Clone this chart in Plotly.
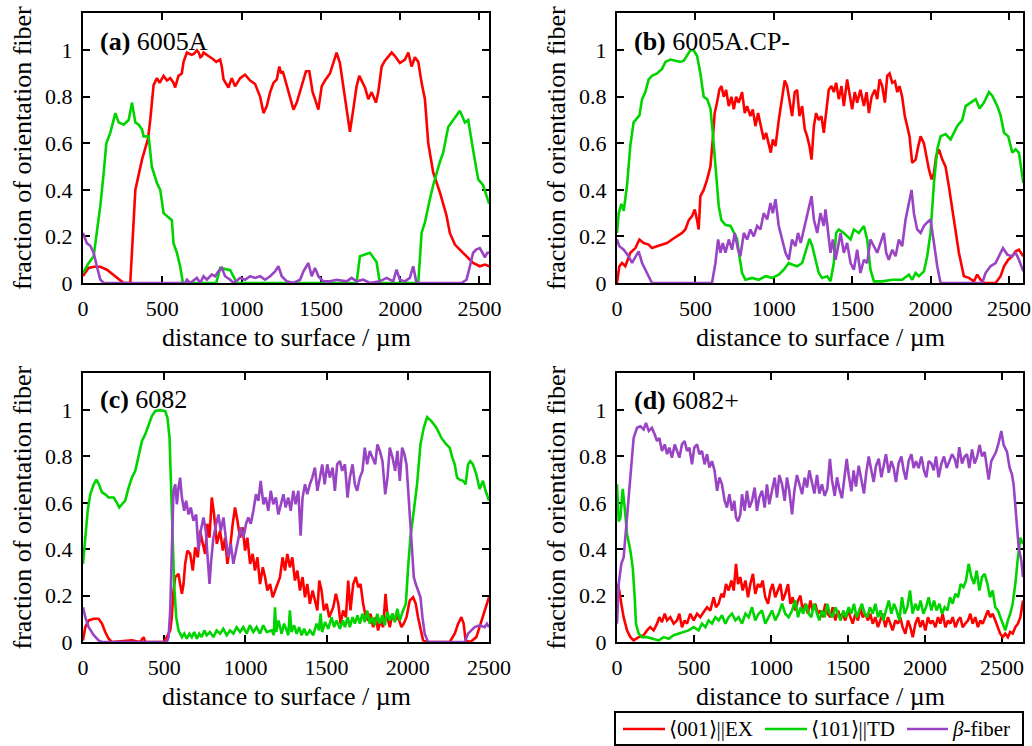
import plotly.graph_objects as go

# ---------------- data (distance in µm, fraction) ----------------
RED_A = [(0,0.03),(36,0.065),(70,0.07),(109,0.07),(151,0.057),(204,0.03),(256,0),(298,0),(330,0.40),(372,0.53),(410,0.62),(424,0.70),(445,0.85),(466,0.88),(483,0.86),(508,0.89),(529,0.87),(550,0.88),(571,0.86),(581,0.84),(602,0.89),(623,0.90),(634,0.95),(655,0.99),(686,0.98),(700,0.985),(718,1.0),(730,0.99),(740,0.97),(750,0.975),(760,0.99),(791,0.975),(805,0.97),(823,0.96),(840,0.95),(854,0.955),(865,0.96),(875,0.93),(886,0.875),(917,0.84),(938,0.88),(959,0.845),(991,0.88),(1022,0.895),(1054,0.87),(1085,0.855),(1117,0.80),(1138,0.73),(1159,0.76),(1180,0.82),(1201,0.86),(1222,0.875),(1238,0.93),(1250,0.9),(1259,0.91),(1274,0.875),(1295,0.82),(1327,0.745),(1348,0.775),(1379,0.845),(1406,0.91),(1427,0.91),(1448,0.82),(1463,0.79),(1484,0.745),(1505,0.845),(1526,0.87),(1557,0.90),(1579,0.945),(1599,0.99),(1620,0.945),(1641,0.845),(1662,0.745),(1683,0.65),(1704,0.745),(1725,0.845),(1742,0.89),(1763,0.86),(1778,0.84),(1799,0.79),(1820,0.82),(1847,0.775),(1862,0.82),(1883,0.93),(1904,0.955),(1946,0.99),(1967,0.975),(1998,0.945),(2030,0.96),(2051,0.99),(2072,0.93),(2093,0.97),(2114,0.95),(2135,0.86),(2156,0.79),(2177,0.60),(2208,0.475),(2250,0.39),(2292,0.29),(2313,0.215),(2345,0.165),(2387,0.136),(2418,0.115),(2460,0.086),(2502,0.072),(2534,0.079),(2561,0.072)]
GREEN_A = [(0,0.043),(36,0.086),(67,0.115),(88,0.215),(109,0.33),(130,0.47),(147,0.60),(172,0.645),(193,0.70),(204,0.73),(225,0.69),(256,0.68),(288,0.70),(309,0.775),(330,0.69),(351,0.68),(372,0.66),(382,0.63),(414,0.63),(434,0.50),(466,0.43),(487,0.40),(508,0.30),(539,0.28),(560,0.27),(571,0.17),(592,0.13),(613,0.07),(630,0),(840,0),(865,0.065),(928,0.055),(970,0),(1725,0),(1746,0.115),(1809,0.13),(1851,0.09),(1872,0),(2114,0),(2135,0.215),(2156,0.26),(2187,0.36),(2208,0.42),(2250,0.52),(2271,0.56),(2303,0.67),(2334,0.70),(2376,0.74),(2408,0.69),(2429,0.70),(2460,0.57),(2492,0.445),(2523,0.42),(2561,0.34)]
PURPLE_A = [(0,0.215),(25,0.17),(46,0.16),(67,0.13),(88,0.07),(109,0.015),(130,0),(644,0),(655,0.014),(676,0),(718,0.022),(739,0),(760,0.029),(781,0.014),(812,0.036),(833,0.029),(854,0.05),(875,0.065),(896,0.029),(928,0.014),(949,0),(991,0.022),(1022,0.014),(1054,0.029),(1085,0.022),(1117,0.029),(1148,0.014),(1180,0.029),(1211,0.05),(1232,0.072),(1253,0.029),(1285,0.007),(1327,0),(1369,0.014),(1390,0.05),(1421,0.086),(1442,0.029),(1463,0.065),(1484,0.029),(1515,0.007),(1557,0.007),(1599,0.014),(1662,0.007),(1694,0.022),(1725,0.007),(1767,0.014),(1809,0),(1872,0.007),(1914,0.022),(1956,0.007),(1977,0.057),(1998,0.014),(2030,0.007),(2061,0.022),(2082,0.072),(2103,0),(2387,0),(2418,0.014),(2439,0.07),(2460,0.13),(2481,0.145),(2502,0.15),(2519,0.13),(2534,0.11),(2549,0.13),(2561,0.13)]

RED_B = [(0,0),(15,0.072),(32,0.086),(53,0.072),(85,0.13),(117,0.15),(143,0.187),(170,0.172),(202,0.165),(223,0.15),(255,0.158),(287,0.165),(319,0.172),(351,0.187),(383,0.20),(415,0.215),(436,0.23),(458,0.27),(479,0.287),(496,0.316),(511,0.27),(521,0.23),(532,0.373),(553,0.40),(575,0.445),(596,0.50),(611,0.617),(623,0.73),(638,0.775),(653,0.83),(666,0.846),(681,0.80),(696,0.83),(713,0.76),(730,0.80),(745,0.746),(760,0.80),(777,0.775),(798,0.82),(815,0.73),(830,0.76),(851,0.717),(866,0.746),(883,0.674),(900,0.73),(921,0.66),(936,0.617),(951,0.645),(968,0.588),(981,0.56),(994,0.617),(1011,0.588),(1032,0.70),(1053,0.79),(1070,0.87),(1085,0.846),(1100,0.79),(1117,0.717),(1134,0.82),(1149,0.83),(1164,0.717),(1181,0.76),(1198,0.66),(1213,0.63),(1228,0.588),(1241,0.53),(1256,0.674),(1270,0.73),(1287,0.70),(1304,0.717),(1319,0.645),(1334,0.73),(1351,0.83),(1368,0.846),(1383,0.82),(1398,0.86),(1415,0.79),(1432,0.846),(1447,0.76),(1468,0.875),(1483,0.82),(1500,0.746),(1517,0.82),(1532,0.775),(1553,0.83),(1575,0.76),(1592,0.82),(1607,0.73),(1624,0.80),(1645,0.83),(1660,0.79),(1675,0.875),(1692,0.846),(1709,0.775),(1724,0.89),(1739,0.90),(1756,0.86),(1773,0.867),(1788,0.82),(1802,0.846),(1819,0.80),(1836,0.717),(1851,0.674),(1866,0.63),(1883,0.516),(1905,0.53),(1922,0.588),(1937,0.63),(1958,0.60),(1973,0.545),(1990,0.488),(2007,0.445),(2022,0.473),(2036,0.545),(2054,0.574),(2075,0.53),(2096,0.50),(2117,0.416),(2149,0.27),(2181,0.13),(2213,0.029),(2245,0.022),(2277,0.007),(2298,0.036),(2319,0.014),(2341,0),(2415,0),(2447,0.029),(2469,0.072),(2496,0.10),(2522,0.115),(2543,0.136),(2564,0.143),(2592,0.115)]
GREEN_B = [(0,0.215),(11,0.30),(28,0.34),(43,0.31),(64,0.42),(85,0.59),(106,0.69),(128,0.71),(143,0.72),(160,0.79),(181,0.82),(202,0.875),(223,0.89),(255,0.90),(287,0.92),(309,0.95),(340,0.96),(372,0.955),(404,0.95),(426,0.955),(447,0.975),(468,1.0),(489,1.0),(511,0.975),(532,0.90),(553,0.80),(575,0.79),(596,0.75),(611,0.645),(628,0.50),(649,0.33),(666,0.27),(691,0.25),(724,0.245),(745,0.215),(766,0.19),(781,0.115),(798,0.043),(819,0.014),(862,0.022),(904,0.014),(947,0.029),(990,0.022),(1032,0.036),(1064,0.057),(1096,0.086),(1117,0.079),(1149,0.072),(1181,0.086),(1213,0.16),(1228,0.19),(1245,0.16),(1266,0.10),(1287,0.043),(1309,0.022),(1341,0.029),(1362,0.007),(1383,0.086),(1398,0.215),(1415,0.23),(1447,0.215),(1468,0.20),(1490,0.187),(1511,0.23),(1543,0.215),(1575,0.245),(1596,0.187),(1617,0.057),(1639,0.007),(1692,0.007),(1756,0.014),(1819,0.014),(1862,0.036),(1883,0.014),(1905,0.043),(1926,0.029),(1958,0.05),(1979,0.115),(2000,0.215),(2022,0.43),(2043,0.574),(2064,0.63),(2096,0.64),(2128,0.617),(2149,0.645),(2171,0.675),(2202,0.70),(2224,0.76),(2256,0.775),(2288,0.79),(2313,0.75),(2341,0.775),(2373,0.82),(2394,0.805),(2426,0.76),(2447,0.72),(2469,0.645),(2496,0.63),(2522,0.56),(2543,0.574),(2564,0.56),(2592,0.43)]
PURPLE_B = [(0,0.187),(15,0.158),(43,0.143),(74,0.115),(96,0.086),(121,0.115),(138,0.136),(160,0.086),(192,0.043),(223,0),(606,0),(628,0.086),(645,0.187),(660,0.13),(675,0.172),(692,0.13),(713,0.187),(734,0.143),(751,0.215),(772,0.143),(787,0.115),(809,0.215),(830,0.187),(851,0.23),(872,0.20),(894,0.245),(915,0.23),(936,0.30),(958,0.273),(979,0.344),(994,0.30),(1011,0.36),(1032,0.245),(1053,0.187),(1075,0.13),(1096,0.10),(1117,0.187),(1138,0.158),(1155,0.215),(1172,0.172),(1192,0.23),(1209,0.287),(1224,0.33),(1241,0.373),(1256,0.273),(1277,0.215),(1298,0.30),(1319,0.245),(1330,0.316),(1347,0.215),(1362,0.13),(1377,0.187),(1394,0.10),(1411,0.158),(1426,0.215),(1447,0.13),(1468,0.172),(1490,0.086),(1511,0.057),(1532,0.143),(1553,0.043),(1575,0.10),(1596,0.086),(1617,0.187),(1639,0.158),(1660,0.13),(1681,0.172),(1702,0.215),(1717,0.13),(1734,0.10),(1756,0.143),(1777,0.115),(1798,0.187),(1819,0.158),(1841,0.273),(1858,0.33),(1879,0.40),(1894,0.30),(1915,0.23),(1937,0.215),(1958,0.245),(1979,0.26),(2000,0.273),(2022,0.172),(2043,0.072),(2064,0),(2330,0),(2351,0.043),(2383,0.072),(2415,0.086),(2437,0.115),(2462,0.15),(2490,0.122),(2517,0.115),(2543,0.13),(2564,0.10),(2592,0.05)]

RED_C = [(0,0.007),(14,0.064),(35,0.093),(66,0.10),(96,0.10),(117,0.079),(137,0.043),(158,0.014),(178,0),(301,0.007),(352,0),(373,0.021),(383,0),(496,0),(516,0.021),(537,0.05),(547,0.107),(557,0.222),(568,0.28),(588,0.294),(598,0.25),(609,0.208),(619,0.25),(629,0.337),(643,0.394),(660,0.38),(676,0.308),(691,0.408),(707,0.365),(721,0.48),(738,0.423),(752,0.38),(766,0.51),(779,0.45),(793,0.623),(807,0.55),(824,0.423),(844,0.48),(861,0.394),(875,0.45),(889,0.337),(906,0.408),(922,0.51),(936,0.58),(951,0.523),(967,0.45),(983,0.494),(998,0.394),(1012,0.45),(1029,0.337),(1045,0.38),(1059,0.308),(1074,0.365),(1090,0.25),(1107,0.322),(1121,0.28),(1135,0.222),(1152,0.25),(1168,0.193),(1182,0.222),(1197,0.25),(1213,0.28),(1229,0.365),(1244,0.308),(1258,0.38),(1274,0.322),(1289,0.365),(1305,0.265),(1320,0.308),(1336,0.222),(1352,0.28),(1367,0.193),(1381,0.25),(1397,0.165),(1414,0.222),(1428,0.179),(1443,0.136),(1455,0.265),(1469,0.222),(1483,0.136),(1500,0.165),(1516,0.107),(1531,0.136),(1541,0.15),(1557,0.208),(1572,0.165),(1586,0.079),(1602,0.136),(1619,0.107),(1633,0.265),(1647,0.136),(1664,0.25),(1680,0.28),(1695,0.236),(1709,0.25),(1725,0.165),(1742,0.107),(1756,0.093),(1770,0.122),(1787,0.064),(1803,0.107),(1817,0.05),(1832,0.093),(1848,0.064),(1863,0.208),(1875,0.107),(1889,0.064),(1906,0.122),(1920,0.093),(1940,0.107),(1961,0.064),(1975,0.079),(1992,0.107),(2012,0.179),(2033,0.193),(2049,0.165),(2063,0.107),(2078,0.05),(2094,0.007),(2115,0),(2258,0),(2289,0.036),(2310,0.079),(2330,0.107),(2344,0.079),(2356,0.007),(2385,0),(2422,0.021),(2442,0.064),(2463,0.107),(2483,0.15),(2500,0.193)]
GREEN_C = [(0,0.337),(14,0.45),(29,0.566),(45,0.637),(66,0.68),(82,0.70),(98,0.68),(117,0.645),(137,0.637),(158,0.623),(189,0.623),(209,0.60),(223,0.58),(240,0.594),(260,0.61),(281,0.666),(301,0.709),(322,0.738),(342,0.795),(363,0.867),(383,0.895),(404,0.938),(424,0.974),(445,0.996),(475,1.0),(506,0.996),(520,0.967),(533,0.88),(541,0.709),(553,0.45),(561,0.25),(574,0.107),(588,0.05),(609,0.021),(624,0.036),(639,0.014),(655,0.036),(670,0.021),(685,0.043),(701,0.014),(716,0.036),(731,0.021),(747,0.05),(762,0.029),(782,0.043),(803,0.021),(823,0.05),(844,0.036),(864,0.057),(885,0.029),(905,0.05),(926,0.036),(946,0.064),(967,0.043),(987,0.064),(1008,0.036),(1028,0.072),(1049,0.043),(1069,0.064),(1090,0.036),(1110,0.072),(1131,0.043),(1162,0.05),(1175,0.029),(1182,0.15),(1190,0.043),(1204,0.093),(1223,0.036),(1238,0.079),(1254,0.05),(1264,0.029),(1274,0.136),(1284,0.043),(1300,0.072),(1315,0.036),(1331,0.064),(1346,0.029),(1362,0.057),(1377,0.029),(1397,0.05),(1418,0.029),(1438,0.079),(1453,0.05),(1463,0.122),(1473,0.043),(1490,0.086),(1510,0.057),(1531,0.107),(1546,0.064),(1561,0.093),(1582,0.057),(1600,0.093),(1613,0.064),(1630,0.107),(1643,0.064),(1660,0.107),(1674,0.079),(1690,0.115),(1705,0.079),(1720,0.122),(1735,0.086),(1750,0.136),(1766,0.079),(1781,0.107),(1797,0.072),(1812,0.122),(1828,0.079),(1843,0.115),(1858,0.072),(1874,0.129),(1889,0.093),(1905,0.122),(1920,0.086),(1935,0.143),(1951,0.093),(1971,0.136),(1988,0.165),(2002,0.322),(2016,0.45),(2037,0.566),(2057,0.68),(2078,0.852),(2098,0.924),(2119,0.97),(2145,0.953),(2176,0.924),(2207,0.88),(2237,0.852),(2258,0.838),(2274,0.795),(2289,0.766),(2303,0.709),(2319,0.70),(2340,0.695),(2356,0.68),(2371,0.766),(2385,0.78),(2401,0.766),(2422,0.723),(2442,0.66),(2463,0.695),(2479,0.652),(2500,0.61)]
PURPLE_C = [(0,0.15),(14,0.107),(35,0.064),(66,0.029),(96,0.007),(117,0),(516,0),(527,0.021),(537,0.136),(547,0.45),(557,0.652),(568,0.68),(578,0.594),(588,0.666),(598,0.709),(609,0.623),(623,0.566),(635,0.609),(650,0.55),(664,0.58),(680,0.523),(697,0.55),(711,0.394),(725,0.48),(742,0.537),(756,0.48),(766,0.38),(779,0.25),(789,0.35),(803,0.45),(820,0.509),(834,0.55),(848,0.48),(865,0.537),(879,0.45),(895,0.365),(910,0.423),(926,0.337),(942,0.394),(957,0.45),(971,0.494),(988,0.45),(1004,0.51),(1018,0.537),(1033,0.51),(1049,0.566),(1065,0.637),(1080,0.609),(1094,0.695),(1111,0.594),(1125,0.623),(1141,0.566),(1156,0.652),(1172,0.594),(1188,0.623),(1203,0.55),(1217,0.594),(1234,0.637),(1248,0.58),(1264,0.623),(1279,0.566),(1295,0.652),(1309,0.594),(1326,0.652),(1340,0.458),(1352,0.623),(1367,0.68),(1381,0.637),(1397,0.68),(1412,0.709),(1428,0.752),(1443,0.652),(1459,0.709),(1473,0.766),(1488,0.68),(1504,0.766),(1520,0.709),(1537,0.752),(1551,0.652),(1565,0.766),(1582,0.78),(1596,0.738),(1613,0.766),(1629,0.623),(1643,0.709),(1660,0.766),(1674,0.68),(1688,0.652),(1705,0.709),(1721,0.738),(1735,0.838),(1750,0.766),(1766,0.824),(1783,0.795),(1799,0.766),(1813,0.852),(1828,0.824),(1844,0.78),(1861,0.637),(1875,0.709),(1889,0.838),(1906,0.795),(1922,0.738),(1936,0.824),(1951,0.695),(1965,0.838),(1979,0.81),(1992,0.766),(2004,0.623),(2016,0.509),(2029,0.365),(2037,0.28),(2049,0.25),(2063,0.222),(2078,0.193),(2090,0.107),(2104,0.036),(2125,0),(2350,0),(2371,0.036),(2391,0.05),(2412,0.064),(2442,0.072),(2473,0.064),(2487,0.079),(2500,0.064)]

RED_D = [(0,0.25),(15,0.222),(28,0.165),(43,0.107),(65,0.05),(87,0.021),(108,0.007),(141,0.021),(173,0.029),(195,0.05),(216,0.064),(238,0.05),(260,0.079),(275,0.107),(292,0.086),(310,0.122),(325,0.093),(346,0.107),(368,0.079),(390,0.093),(405,0.122),(422,0.064),(439,0.093),(455,0.079),(476,0.122),(498,0.093),(520,0.122),(541,0.107),(563,0.129),(585,0.15),(606,0.136),(628,0.193),(643,0.15),(660,0.165),(678,0.208),(693,0.193),(708,0.25),(725,0.222),(743,0.265),(758,0.222),(773,0.337),(786,0.25),(801,0.28),(816,0.222),(834,0.265),(851,0.193),(866,0.25),(883,0.294),(898,0.208),(916,0.25),(931,0.236),(946,0.265),(963,0.193),(981,0.165),(996,0.222),(1011,0.25),(1028,0.193),(1046,0.222),(1061,0.25),(1076,0.179),(1093,0.208),(1111,0.25),(1126,0.165),(1141,0.193),(1158,0.136),(1176,0.179),(1191,0.2),(1206,0.136),(1223,0.165),(1240,0.122),(1256,0.179),(1271,0.136),(1288,0.165),(1305,0.122),(1321,0.136),(1336,0.107),(1353,0.165),(1368,0.122),(1386,0.107),(1401,0.15),(1418,0.093),(1435,0.136),(1451,0.107),(1466,0.122),(1483,0.093),(1500,0.136),(1516,0.107),(1531,0.079),(1548,0.122),(1565,0.093),(1580,0.15),(1596,0.107),(1613,0.122),(1630,0.093),(1645,0.122),(1661,0.079),(1678,0.107),(1695,0.064),(1710,0.093),(1725,0.122),(1743,0.064),(1760,0.107),(1775,0.079),(1790,0.05),(1808,0.093),(1825,0.079),(1840,0.107),(1855,0.064),(1873,0.036),(1890,0.093),(1905,0.064),(1921,0.021),(1938,0.079),(1955,0.107),(1970,0.064),(1985,0.093),(2003,0.05),(2020,0.107),(2035,0.079),(2050,0.093),(2068,0.064),(2085,0.107),(2100,0.079),(2115,0.122),(2133,0.064),(2150,0.093),(2165,0.079),(2180,0.107),(2198,0.064),(2215,0.093),(2230,0.107),(2245,0.064),(2262,0.079),(2280,0.093),(2295,0.122),(2310,0.079),(2327,0.107),(2344,0.064),(2360,0.093),(2375,0.079),(2392,0.107),(2409,0.136),(2424,0.107),(2440,0.122),(2457,0.093),(2474,0.064),(2489,0.036),(2505,0.021),(2522,0.036),(2539,0.021),(2554,0.043),(2570,0.036),(2587,0.064),(2604,0.079),(2620,0.107),(2637,0.179)]
GREEN_D = [(0,0.68),(11,0.52),(22,0.535),(32,0.652),(37,0.66),(50,0.58),(65,0.466),(87,0.394),(102,0.322),(115,0.193),(123,0.079),(141,0.036),(162,0.021),(195,0.021),(227,0.014),(271,0.007),(303,0.021),(336,0.014),(368,0.029),(400,0.036),(433,0.043),(465,0.05),(498,0.064),(530,0.05),(552,0.079),(574,0.064),(595,0.093),(617,0.079),(639,0.107),(660,0.093),(682,0.115),(704,0.079),(725,0.107),(747,0.122),(769,0.093),(790,0.107),(812,0.079),(834,0.122),(855,0.107),(877,0.15),(898,0.093),(920,0.122),(942,0.136),(963,0.079),(985,0.107),(1007,0.136),(1028,0.093),(1050,0.122),(1072,0.165),(1093,0.122),(1115,0.107),(1137,0.136),(1158,0.179),(1176,0.107),(1193,0.15),(1210,0.122),(1228,0.165),(1245,0.122),(1262,0.107),(1280,0.165),(1299,0.122),(1314,0.093),(1331,0.136),(1349,0.107),(1366,0.165),(1383,0.122),(1401,0.107),(1418,0.15),(1435,0.122),(1453,0.093),(1470,0.136),(1487,0.107),(1505,0.15),(1522,0.122),(1539,0.165),(1557,0.107),(1574,0.136),(1591,0.165),(1609,0.122),(1626,0.107),(1643,0.15),(1661,0.122),(1678,0.165),(1695,0.107),(1712,0.136),(1730,0.093),(1747,0.136),(1765,0.179),(1782,0.122),(1799,0.165),(1816,0.136),(1834,0.093),(1851,0.193),(1868,0.122),(1886,0.15),(1903,0.222),(1920,0.122),(1938,0.165),(1955,0.136),(1972,0.179),(1990,0.122),(2007,0.15),(2024,0.193),(2042,0.136),(2059,0.179),(2076,0.136),(2094,0.165),(2111,0.122),(2128,0.15),(2146,0.136),(2163,0.193),(2180,0.165),(2198,0.208),(2215,0.193),(2232,0.25),(2250,0.237),(2267,0.265),(2284,0.337),(2302,0.28),(2319,0.25),(2336,0.308),(2354,0.222),(2371,0.28),(2388,0.294),(2406,0.25),(2423,0.193),(2440,0.222),(2457,0.15),(2474,0.136),(2489,0.107),(2505,0.079),(2522,0.05),(2539,0.093),(2554,0.122),(2570,0.165),(2587,0.25),(2604,0.365),(2620,0.45),(2637,0.423)]
PURPLE_D = [(0,0.079),(11,0.25),(28,0.337),(43,0.365),(65,0.537),(87,0.709),(108,0.88),(130,0.924),(152,0.93),(173,0.917),(188,0.945),(206,0.91),(227,0.924),(245,0.895),(260,0.867),(275,0.88),(292,0.824),(310,0.852),(325,0.81),(340,0.838),(357,0.795),(375,0.852),(390,0.824),(405,0.795),(422,0.852),(439,0.867),(455,0.824),(470,0.838),(487,0.766),(502,0.838),(520,0.852),(535,0.81),(552,0.824),(569,0.766),(585,0.81),(600,0.752),(617,0.78),(634,0.738),(650,0.652),(665,0.709),(682,0.68),(699,0.609),(714,0.58),(730,0.637),(747,0.566),(762,0.609),(773,0.537),(786,0.52),(801,0.55),(812,0.637),(829,0.566),(844,0.652),(860,0.58),(877,0.609),(894,0.666),(909,0.566),(924,0.623),(942,0.652),(959,0.58),(974,0.68),(989,0.594),(1007,0.652),(1024,0.709),(1039,0.623),(1054,0.72),(1072,0.68),(1089,0.609),(1104,0.709),(1119,0.652),(1137,0.55),(1152,0.652),(1169,0.72),(1184,0.68),(1202,0.637),(1219,0.709),(1234,0.666),(1249,0.74),(1267,0.69),(1282,0.64),(1299,0.72),(1314,0.64),(1331,0.68),(1349,0.63),(1366,0.66),(1383,0.79),(1396,0.70),(1414,0.63),(1429,0.71),(1444,0.66),(1461,0.62),(1477,0.70),(1492,0.79),(1505,0.72),(1522,0.65),(1537,0.74),(1552,0.67),(1570,0.76),(1587,0.69),(1604,0.64),(1619,0.73),(1635,0.80),(1652,0.74),(1667,0.69),(1682,0.76),(1700,0.79),(1717,0.71),(1732,0.76),(1747,0.81),(1765,0.73),(1782,0.78),(1797,0.75),(1812,0.69),(1829,0.77),(1847,0.80),(1862,0.74),(1877,0.70),(1894,0.78),(1912,0.81),(1927,0.75),(1942,0.78),(1959,0.75),(1977,0.80),(1994,0.74),(2009,0.71),(2024,0.78),(2042,0.77),(2057,0.74),(2072,0.80),(2089,0.71),(2107,0.77),(2124,0.80),(2141,0.75),(2159,0.78),(2176,0.81),(2193,0.79),(2208,0.75),(2223,0.84),(2241,0.77),(2258,0.80),(2273,0.81),(2288,0.75),(2306,0.83),(2323,0.77),(2340,0.80),(2355,0.85),(2371,0.80),(2388,0.82),(2403,0.76),(2414,0.70),(2431,0.78),(2447,0.80),(2462,0.82),(2479,0.86),(2496,0.91),(2511,0.85),(2533,0.82),(2550,0.752),(2565,0.723),(2576,0.68),(2591,0.566),(2609,0.408),(2626,0.351),(2637,0.28)]

PANEL_LABELS = ["(a)", "(b)", "(c)", "(d)"]
PANEL_NAMES = ["6005A", "6005A.CP-", "6082", "6082+"]
X_MAX = [2560, 2590, 2500, 2637]
X_TICKS = [0, 500, 1000, 1500, 2000, 2500]
Y_TICKS = [0, 0.2, 0.4, 0.6, 0.8, 1]
Y_TICKTEXT = ["0", "0.2", "0.4", "0.6", "0.8", "1"]
SERIES_NAMES = ["⟨001⟩||EX", "⟨101⟩||TD", "<i>β</i>-fiber"]
COLORS = ["#ff0000", "#00d400", "#9944c4"]

PANELS = [(RED_A, GREEN_A, PURPLE_A), (RED_B, GREEN_B, PURPLE_B),
          (RED_C, GREEN_C, PURPLE_C), (RED_D, GREEN_D, PURPLE_D)]

W, H = 1032, 746
FONT = "'Liberation Serif', 'Times New Roman', serif"

# panel boxes in pixels (left, right, top, bottom)
BOXES = [(83, 489, 13, 283), (617, 1023, 13, 283),
         (83, 489, 373, 642), (617, 1023, 373, 642)]
LABEL_DY = [28, 28, 26, 27]

fig = go.Figure()
for i, series in enumerate(PANELS):
    ax = "" if i == 0 else str(i + 1)
    for k, data in enumerate(series):
        xs = [p[0] for p in data]
        ys = [p[1] for p in data]
        fig.add_trace(go.Scatter(
            x=xs, y=ys, mode="lines", name=SERIES_NAMES[k],
            line=dict(color=COLORS[k], width=2.6),
            xaxis="x" + ax, yaxis="y" + ax, showlegend=False))

layout = dict(width=W, height=H,
              margin=dict(l=0, r=0, t=0, b=0, pad=0, autoexpand=False),
              paper_bgcolor="white", plot_bgcolor="white", showlegend=False,
              font=dict(family=FONT, size=22, color="black"))
annotations = []
shapes = []
for i, (l, r, t, b) in enumerate(BOXES):
    ax = "" if i == 0 else str(i + 1)
    common = dict(showline=True, linecolor="black", linewidth=2, mirror="allticks",
                  ticks="inside", ticklen=7, tickwidth=1.5, tickcolor="black",
                  showgrid=False, zeroline=False, layer="below traces", automargin=False,
                  tickfont=dict(family=FONT, size=22, color="black"))
    layout["xaxis" + ax] = dict(domain=[l / W, r / W], range=[0, X_MAX[i]],
                                tickvals=X_TICKS, anchor="y" + ax,
                                ticklabelstandoff=5, **common)
    layout["yaxis" + ax] = dict(domain=[1 - b / H, 1 - t / H], range=[0, 1.16],
                                tickvals=Y_TICKS, ticktext=Y_TICKTEXT, anchor="x" + ax,
                                ticklabelstandoff=4, **common)
    # panel label
    annotations.append(dict(text="<b>" + PANEL_LABELS[i] + "</b> " + PANEL_NAMES[i],
                            xref="x" + ax + " domain", yref="y" + ax + " domain",
                            x=15 / (r - l), y=1 - LABEL_DY[i] / (b - t), xanchor="left", yanchor="middle",
                            showarrow=False, font=dict(family=FONT, size=26, color="black")))
    # x title
    annotations.append(dict(text="distance to surface / µm", xref="paper", yref="paper",
                            x=(l + r) / 2 / W, y=1 - (b + 54) / H, xanchor="center", yanchor="middle",
                            showarrow=False, font=dict(family=FONT, size=26, color="black")))
    # y title
    annotations.append(dict(text="fraction of orientation fiber", xref="paper", yref="paper",
                            x=(l - 61) / W, y=1 - (t + b) / 2 / H, xanchor="center", yanchor="middle",
                            textangle=-90, showarrow=False,
                            font=dict(family=FONT, size=26, color="black")))

# legend (drawn as a framed key below panel d)
LEG_BOX = (615, 1023, 712, 745)
LEG_Y = 729
LEG_ITEMS = [(623, 665), (765, 807), (907, 948)]
shapes.append(dict(type="rect", xref="paper", yref="paper",
                   x0=LEG_BOX[0] / W, x1=LEG_BOX[1] / W, y0=1 - LEG_BOX[3] / H, y1=1 - LEG_BOX[2] / H,
                   line=dict(color="black", width=2), fillcolor="white", layer="above"))
for k, (x0, x1) in enumerate(LEG_ITEMS):
    shapes.append(dict(type="line", xref="paper", yref="paper",
                       x0=x0 / W, x1=x1 / W, y0=1 - LEG_Y / H, y1=1 - LEG_Y / H,
                       line=dict(color=COLORS[k], width=2.6), layer="above"))
    annotations.append(dict(text=SERIES_NAMES[k], xref="paper", yref="paper",
                            x=(x1 + 2) / W, y=1 - LEG_Y / H, xanchor="left", yanchor="middle",
                            showarrow=False, font=dict(family=FONT, size=21, color="black")))

layout["annotations"] = annotations
layout["shapes"] = shapes
fig.update_layout(**layout)
fig.write_html("out.html")
